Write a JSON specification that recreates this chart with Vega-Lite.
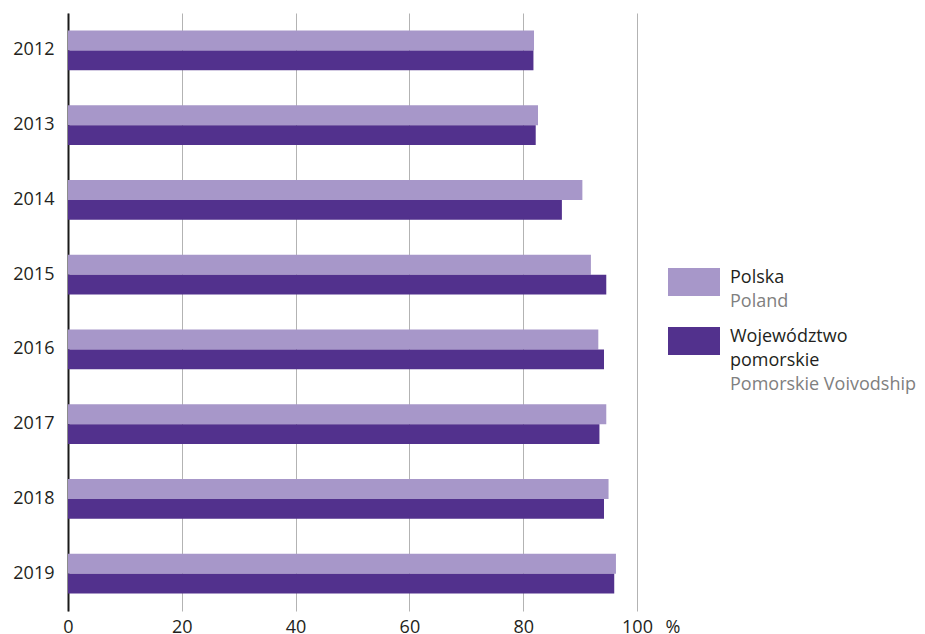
{
  "$schema": "https://vega.github.io/schema/vega-lite/v6.json",
  "width": 569,
  "height": 598,
  "autosize": {"type": "none"},
  "padding": {"left": 68, "top": 13, "right": 288, "bottom": 23},
  "background": "white",
  "config": {
    "view": {"stroke": null},
    "font": "Open Sans",
    "axis": {"labelFont": "Open Sans", "labelFontSize": 18, "labelColor": "#231f20", "titleFont": "Open Sans"}
  },
  "data": {
    "values": [
      {"year": "2012", "seria": "Polska", "series": "Poland", "value": 81.9},
      {"year": "2012", "seria": "Województwo pomorskie", "series": "Pomorskie Voivodship", "value": 81.8},
      {"year": "2013", "seria": "Polska", "series": "Poland", "value": 82.6},
      {"year": "2013", "seria": "Województwo pomorskie", "series": "Pomorskie Voivodship", "value": 82.2},
      {"year": "2014", "seria": "Polska", "series": "Poland", "value": 90.4},
      {"year": "2014", "seria": "Województwo pomorskie", "series": "Pomorskie Voivodship", "value": 86.8},
      {"year": "2015", "seria": "Polska", "series": "Poland", "value": 91.9},
      {"year": "2015", "seria": "Województwo pomorskie", "series": "Pomorskie Voivodship", "value": 94.6},
      {"year": "2016", "seria": "Polska", "series": "Poland", "value": 93.2},
      {"year": "2016", "seria": "Województwo pomorskie", "series": "Pomorskie Voivodship", "value": 94.2},
      {"year": "2017", "seria": "Polska", "series": "Poland", "value": 94.6},
      {"year": "2017", "seria": "Województwo pomorskie", "series": "Pomorskie Voivodship", "value": 93.4},
      {"year": "2018", "seria": "Polska", "series": "Poland", "value": 95.0},
      {"year": "2018", "seria": "Województwo pomorskie", "series": "Pomorskie Voivodship", "value": 94.2},
      {"year": "2019", "seria": "Polska", "series": "Poland", "value": 96.3},
      {"year": "2019", "seria": "Województwo pomorskie", "series": "Pomorskie Voivodship", "value": 96.0}
    ]
  },
  "mark": {"type": "bar"},
  "encoding": {
    "y": {
      "field": "year", "type": "nominal", "sort": "ascending",
      "scale": {"paddingInner": 0.47, "paddingOuter": 0.235},
      "axis": {"title": null, "ticks": false, "grid": false, "domain": true, "domainColor": "#1a1a1a", "domainWidth": 2, "labelPadding": 14, "labelBaseline": "middle"}
    },
    "x": {
      "field": "value", "type": "quantitative",
      "scale": {"domain": [0, 100], "nice": false, "zero": true},
      "axis": {
        "values": [0, 20, 40, 60, 80, 100], "grid": true, "gridColor": "#b3b3b3", "gridWidth": 1,
        "domain": false, "ticks": false, "labelPadding": 7, "labelFlush": false,
        "title": "%", "titleFontSize": 18, "titleFontWeight": "normal", "titleColor": "#231f20",
        "titleX": 597, "titleY": 7, "titleAlign": "left", "titleBaseline": "top", "titleAnchor": "start"
      }
    },
    "yOffset": {"field": "seria", "type": "nominal", "scale": {"domain": ["Polska", "Województwo pomorskie"]}},
    "color": {
      "field": "seria", "type": "nominal",
      "scale": {"domain": ["Polska", "Województwo pomorskie"], "range": ["#a797c9", "#52318d"]},
      "legend": {
        "orient": "none", "legendX": 593, "legendY": 247, "title": null,
        "symbolType": "M-1,-0.5H25V13.5H-1Z", "symbolSize": 16, "symbolStrokeWidth": 0,
        "labelFont": "Open Sans", "labelFontSize": 18, "labelColor": "#231f20",
        "labelBaseline": "top", "labelOffset": 51, "labelLimit": 400, "rowPadding": 8,
        "labelExpr": "datum.value == 'Polska' ? ['Polska', '\u200b'] : ['Województwo', 'pomorskie', '\u200b']",
        "encode": {"labels": {"update": {"lineHeight": {"value": 24}}}}
      }
    },
    "opacity": {
      "field": "series", "type": "ordinal",
      "scale": {"domain": ["Poland", "Pomorskie Voivodship"], "range": [1, 1]},
      "legend": {
        "orient": "none", "legendX": 593, "legendY": 247, "title": null,
        "symbolType": "M-1,-0.5L-1,-0.5", "symbolSize": 16, "symbolStrokeWidth": 0,
        "symbolFillColor": "transparent", "symbolStrokeColor": "transparent",
        "labelFont": "Open Sans", "labelFontSize": 18, "labelColor": "#808080",
        "labelBaseline": "top", "labelOffset": 51, "labelLimit": 400, "rowPadding": 8,
        "labelExpr": "datum.value == 'Poland' ? ['\u200b', 'Poland'] : ['\u200b', '\u200b', 'Pomorskie Voivodship']",
        "encode": {
          "labels": {"update": {"lineHeight": {"value": 24}}}
        }
      }
    }
  }
}
